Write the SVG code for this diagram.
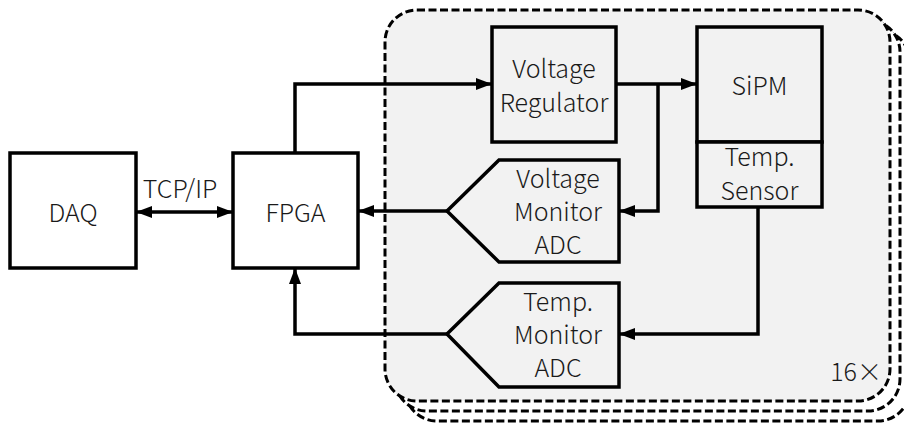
<svg xmlns="http://www.w3.org/2000/svg" width="904" height="428" viewBox="0 0 904 428">
<style>
.card{stroke:#000;stroke-width:3;stroke-dasharray:8 3.5}
.wbox{fill:#fff;stroke:#000;stroke-width:3.5}
.gbox{fill:#f2f2f2;stroke:#000;stroke-width:3.5}
.ln{fill:none;stroke:#000;stroke-width:3.5}
text{font-family:"Noto Sans CJK SC","Noto Sans",sans-serif;font-weight:300;font-size:25px;fill:#1a1a1a;text-anchor:middle}
</style>
<defs>
<marker id="ah" markerUnits="userSpaceOnUse" markerWidth="16" markerHeight="12" viewBox="0 0 16 12" refX="16" refY="6" orient="auto">
<path d="M0,0 L16,6 L0,12 Z" fill="#000"/>
</marker>
<marker id="as" markerUnits="userSpaceOnUse" markerWidth="16" markerHeight="12" viewBox="0 0 16 12" refX="0" refY="6" orient="auto">
<path d="M16,0 L0,6 L16,12 Z" fill="#000"/>
</marker>
</defs>
<rect width="904" height="428" fill="#fff"/>
<g id="cards">
<rect class="card" x="405" y="30" width="505" height="391" rx="32" fill="#fff"/>
<rect class="card" x="395" y="20" width="505" height="391" rx="32" fill="#fff"/>
<rect class="card" x="385" y="10" width="505" height="391" rx="32" fill="#f2f2f2"/>
<text x="882" y="381" style="text-anchor:end">16×</text>
</g>
<g id="daq">
<rect class="wbox" x="10" y="153" width="126" height="115"/>
<text x="73" y="222">DAQ</text>
</g>
<g id="fpga">
<rect class="wbox" x="233" y="153" width="125" height="115"/>
<text x="295.5" y="222">FPGA</text>
</g>
<g id="regulator">
<rect class="gbox" x="492" y="27" width="124" height="115"/>
<text x="554" y="78">Voltage</text>
<text x="554" y="112">Regulator</text>
</g>
<g id="sipm">
<rect class="gbox" x="697" y="27" width="125" height="115"/>
<text x="759.5" y="95">SiPM</text>
</g>
<g id="sensor">
<rect class="gbox" x="697" y="142" width="125" height="65"/>
<text x="759.5" y="166">Temp.</text>
<text x="759.5" y="200">Sensor</text>
</g>
<g id="vadc">
<path class="gbox" d="M447,211 L499,160 L619,160 L619,262 L499,262 Z"/>
<text x="558" y="188">Voltage</text>
<text x="558" y="221">Monitor</text>
<text x="558" y="254">ADC</text>
</g>
<g id="tadc">
<path class="gbox" d="M447,334 L499,283 L619,283 L619,387 L499,387 Z"/>
<text x="558" y="311">Temp.</text>
<text x="558" y="344">Monitor</text>
<text x="558" y="377">ADC</text>
</g>
<g id="connectors">
<line class="ln" x1="136" y1="212" x2="233" y2="212" marker-start="url(#as)" marker-end="url(#ah)"/>
<text x="180" y="198">TCP/IP</text>
<polyline class="ln" points="295,153 295,84 492,84" marker-end="url(#ah)"/>
<line class="ln" x1="616" y1="84" x2="697" y2="84" marker-end="url(#ah)"/>
<polyline class="ln" points="658,84 658,211 619,211" marker-end="url(#ah)"/>
<line class="ln" x1="447" y1="211" x2="358" y2="211" marker-end="url(#ah)"/>
<polyline class="ln" points="758,207 758,334 619,334" marker-end="url(#ah)"/>
<polyline class="ln" points="447,334 295,334 295,268" marker-end="url(#ah)"/>
</g>
</svg>
